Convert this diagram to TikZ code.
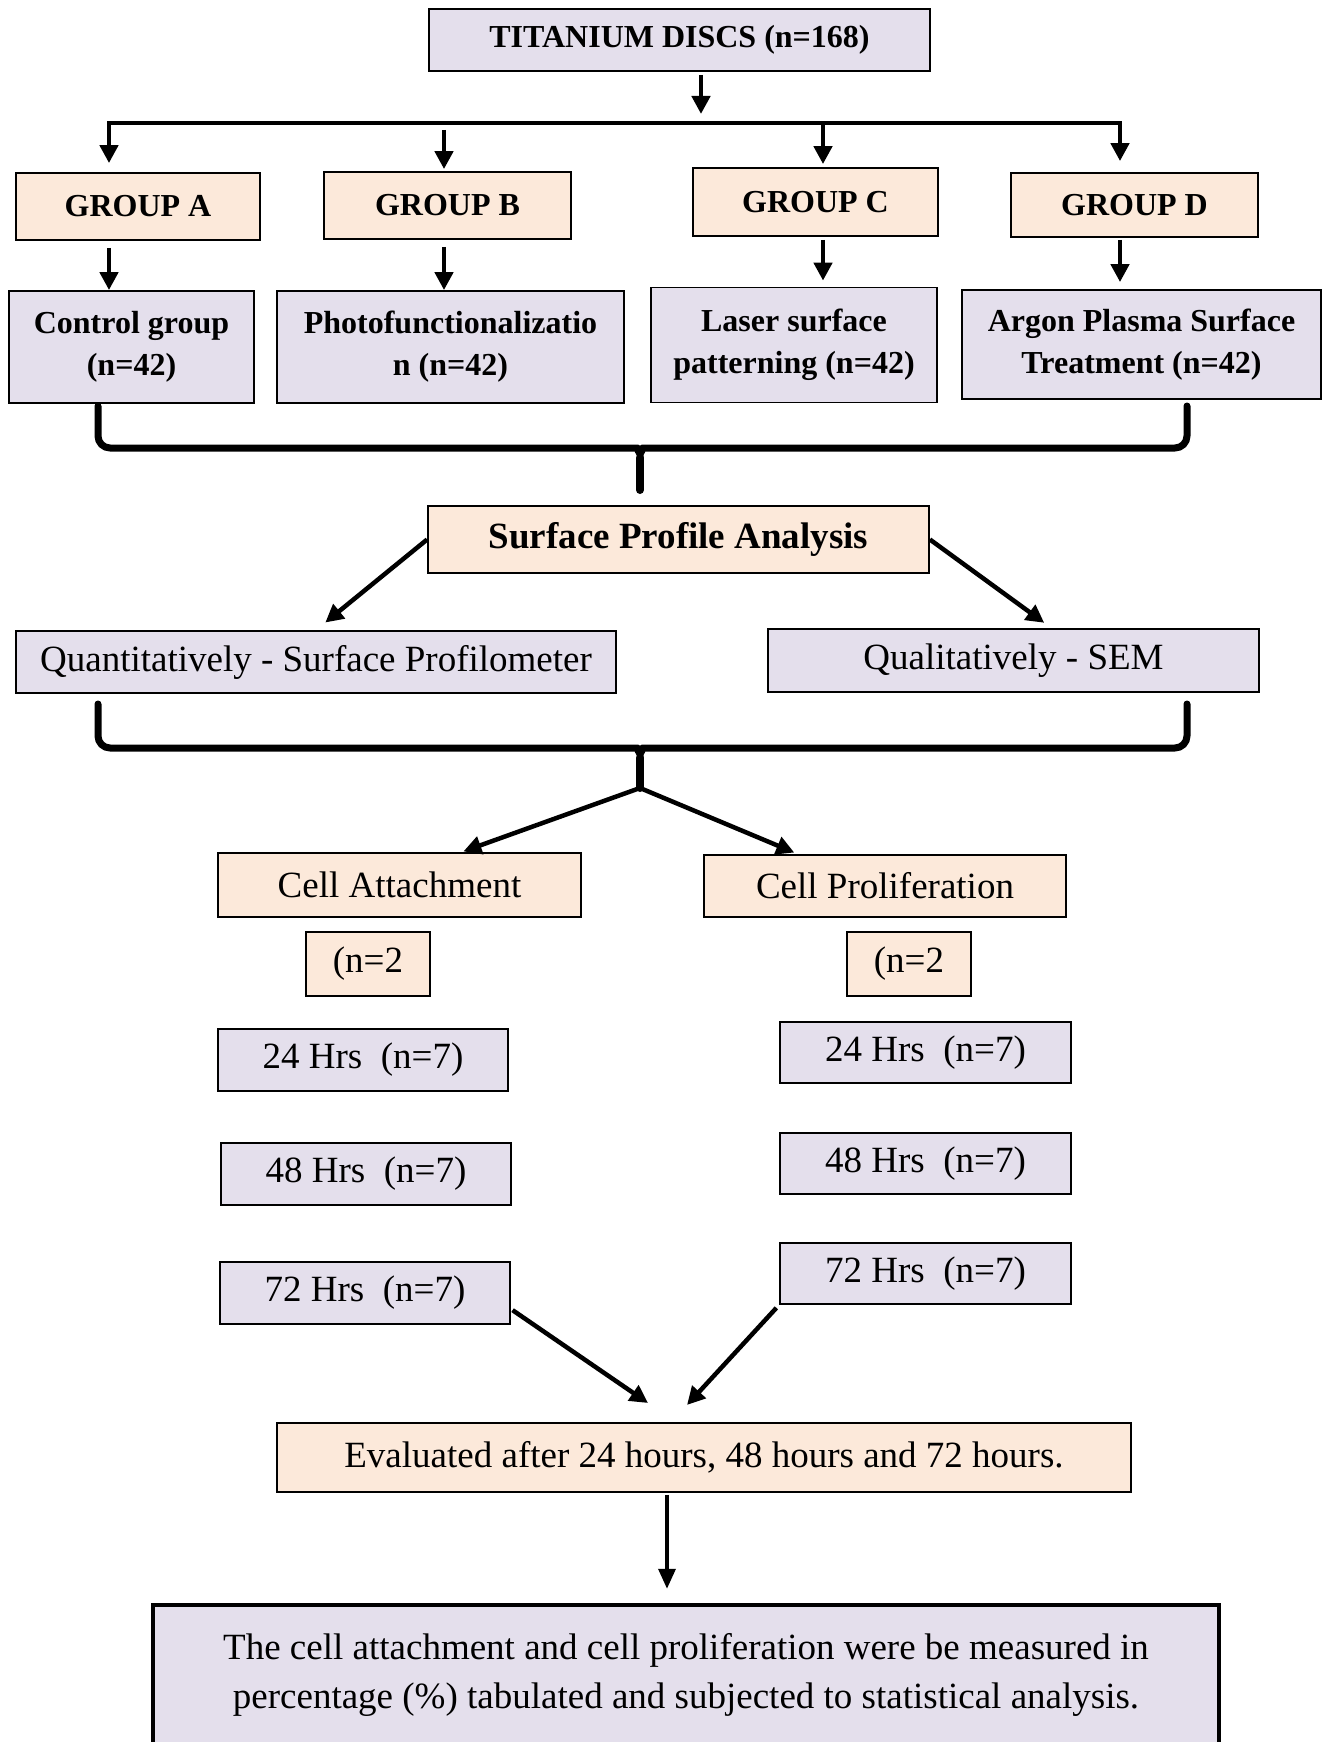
\documentclass[tikz,border=0pt]{standalone}
\usepackage{fontspec}
\setmainfont{Liberation Serif}
\usetikzlibrary{arrows.meta}

\definecolor{lav}{RGB}{228,223,236}
\definecolor{peach}{RGB}{252,233,218}

\begin{document}
\begin{tikzpicture}[x=1pt,y=-1pt,
  box/.style={draw, line width=1.8pt, inner sep=0pt, align=center},
  lbox/.style={box, fill=lav},
  pbox/.style={box, fill=peach},
  txt/.style={font=\fontsize{37}{49}\selectfont},
  hd/.style={font=\fontsize{37}{44}\selectfont\bfseries},
  grp/.style={font=\fontsize{32}{42}\selectfont\bfseries},
  arr/.style={line width=4.5pt, -{Triangle[length=18pt,width=18pt]}},
  arrs/.style={line width=4.5pt, {Triangle[length=18pt,width=18pt]}-{Triangle[length=18pt,width=18pt]}},
  brace/.style={line width=7pt, line cap=round, line join=round, rounded corners=12pt},
  stem/.style={line width=8pt, line cap=round}]
\useasboundingbox (0,0) rectangle (1331,1742);
\clip (0,0) rectangle (1331,1742);

\node[lbox, grp, minimum width=501pt, minimum height=62pt] (top) at (679.5,40) {TITANIUM DISCS (n=168)};

\node[pbox, grp, minimum width=244pt, minimum height=67pt] (ga) at (138,206.5) {GROUP A};
\node[pbox, grp, minimum width=247pt, minimum height=67pt] (gb) at (447.5,205.5) {GROUP B};
\node[pbox, grp, minimum width=245pt, minimum height=68pt] (gc) at (815.5,202) {GROUP C};
\node[pbox, grp, minimum width=247pt, minimum height=64pt] (gd) at (1134.5,205) {GROUP D};

\node[lbox, grp, minimum width=245pt, minimum height=112pt] (ca) at (131.5,347) {Control group\\(n=42)};
\node[lbox, grp, minimum width=347pt, minimum height=112pt] (cb) at (450.5,347) {Photofunctionalizatio\\n (n=42)};
\node[lbox, grp, minimum width=286pt, minimum height=115pt] (cc) at (794,345) {Laser surface\\patterning (n=42)};
\node[lbox, grp, minimum width=359pt, minimum height=109pt] (cd) at (1141.5,344.5) {Argon Plasma Surface\\Treatment (n=42)};

\node[pbox, hd, minimum width=501pt, minimum height=67pt] (sp) at (678.5,539.5) {Surface Profile Analysis};
\node[lbox, txt, minimum width=600pt, minimum height=62pt] (quant) at (316,662) {Quantitatively - Surface Profilometer};
\node[lbox, txt, minimum width=491pt, minimum height=63pt] (qual) at (1013.5,660.5) {Qualitatively - SEM};

\node[pbox, txt, minimum width=363pt, minimum height=64pt] (att) at (399.5,885) {Cell Attachment};
\node[pbox, txt, minimum width=362pt, minimum height=62pt] (pro) at (885,886) {Cell Proliferation};
\node[pbox, txt, minimum width=124pt, minimum height=64pt] (na) at (368,964) {(n=2};
\node[pbox, txt, minimum width=124pt, minimum height=64pt] (np) at (909,964) {(n=2};

\node[lbox, txt, minimum width=290pt, minimum height=62pt] (t24l) at (363,1060) {24 Hrs\ \ (n=7)};
\node[lbox, txt, minimum width=290pt, minimum height=62pt] (t48l) at (366,1174) {48 Hrs\ \ (n=7)};
\node[lbox, txt, minimum width=290pt, minimum height=62pt] (t72l) at (365,1293) {72 Hrs\ \ (n=7)};
\node[lbox, txt, minimum width=291pt, minimum height=61pt] (t24r) at (925.5,1052.5) {24 Hrs\ \ (n=7)};
\node[lbox, txt, minimum width=291pt, minimum height=61pt] (t48r) at (925.5,1163.5) {48 Hrs\ \ (n=7)};
\node[lbox, txt, minimum width=291pt, minimum height=61pt] (t72r) at (925.5,1273.5) {72 Hrs\ \ (n=7)};

\node[pbox, txt, minimum width=854pt, minimum height=69pt] (ev) at (704,1457.5) {Evaluated after 24 hours, 48 hours and 72 hours.};
\node[lbox, txt, line width=4.5pt, minimum width=1066pt, minimum height=180pt] (fin) at (686,1695) {The cell attachment and cell proliferation were be measured in\\percentage (\%) tabulated and subjected to statistical analysis.\\\mbox{}};

\coordinate (jn) at (701,123);
\coordinate (jA) at (109,123);
\coordinate (jB) at (444,123);
\coordinate (jC) at (823,123);
\coordinate (jD) at (1120,123);
\coordinate (tip1) at (640,490);
\coordinate (tip2) at (640,788);
\coordinate (inL) at (648,1403);
\coordinate (inR) at (687,1405);

\path[draw,arr,shorten <=3pt,shorten >=9pt] (top.south -| jn) -- (jn);
\path[draw,arrs,shorten <=9pt,shorten >=11pt] (ga.north -| jA) -- (jA) -- (jD) -- (gd.north -| jD);
\path[draw,arr,shorten <=7pt,shorten >=2pt] (jB) -- (gb.north -| jB);
\path[draw,arr,shorten >=3pt] (jC) -- (gc.north -| jC);

\path[draw,arr,shorten <=7pt] (ga.south -| jA) -- (ca.north -| jA);
\path[draw,arr,shorten <=7pt] (gb.south -| jB) -- (cb.north -| jB);
\path[draw,arr,shorten <=3pt,shorten >=6pt] (gc.south -| jC) -- (cc.north -| jC);
\path[draw,arr,shorten <=2pt,shorten >=7pt] (gd.south -| jD) -- (cd.north -| jD);

\draw[brace] (98,406) -- (98,448) -- (626,448) .. controls (636,448) and (640,454) .. (640,466) .. controls (640,454) and (644,448) .. (654,448) -- (1187,448) -- (1187,406);
\draw[stem] (640,458) -- (tip1);

\path[draw,arr,shorten >=12pt] (sp.west) -- (quant.north);
\path[draw,arr,shorten >=9pt] (sp.east) -- ([xshift=38pt]qual.north);

\draw[brace] (98,704) -- (98,748) -- (626,748) .. controls (636,748) and (640,754) .. (640,766) .. controls (640,754) and (644,748) .. (654,748) -- (1187,748) -- (1187,704);
\draw[stem] (640,758) -- (tip2);

\path[draw,arr,shorten >=2pt] (tip2) -- ([xshift=62pt]att.north);
\path[draw,arr,shorten >=4pt] (tip2) -- ([xshift=-87pt]pro.north);

\path[draw,arr,shorten <=2pt] ([yshift=-16pt]t72l.east) -- (inL);
\path[draw,arr,shorten <=4pt] (t72r.south west) -- (inR);

\path[draw,line width=3.5pt,-{Triangle[length=20pt,width=17pt]},shorten <=2pt,shorten >=14pt] ([xshift=-37pt]ev.south) -- ([xshift=-19pt]fin.north);
\end{tikzpicture}
\end{document}
